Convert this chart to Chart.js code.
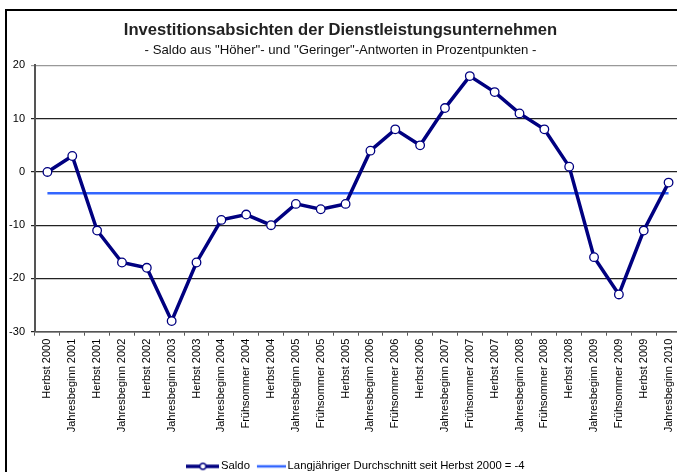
<!DOCTYPE html>
<html>
<head>
<meta charset="utf-8">
<script src="https://cdn.jsdelivr.net/npm/chart.js@4.4.1/dist/chart.umd.min.js"></script>
<style>
  html, body { margin: 0; padding: 0; background: #fff; overflow: hidden; }
</style>
</head>
<body>
<!-- the chart box runs a few pixels past the right edge of the picture -->
<canvas id="chart" width="681" height="472"></canvas>
<script>
// categories and values
const periods = [
  "Herbst 2000", "Jahresbeginn 2001", "Herbst 2001", "Jahresbeginn 2002", "Herbst 2002",
  "Jahresbeginn 2003", "Herbst 2003", "Jahresbeginn 2004", "Frühsommer 2004", "Herbst 2004",
  "Jahresbeginn 2005", "Frühsommer 2005", "Herbst 2005", "Jahresbeginn 2006", "Frühsommer 2006",
  "Herbst 2006", "Jahresbeginn 2007", "Frühsommer 2007", "Herbst 2007", "Jahresbeginn 2008",
  "Frühsommer 2008", "Herbst 2008", "Jahresbeginn 2009", "Frühsommer 2009", "Herbst 2009",
  "Jahresbeginn 2010"
];
const saldo = [0, 3, -11, -17, -18, -28, -17, -9, -8, -10, -6, -7, -6, 4, 8, 5, 12, 18, 15, 11, 8, 1, -16, -23, -11, -2];
const average = [-4, -4, -4, -4, -4, -4, -4, -4, -4, -4, -4, -4, -4, -4, -4, -4, -4, -4, -4, -4, -4, -4, -4, -4, -4, -4];
const yTicks = [20, 10, 0, -10, -20, -30];

const FONT = "'Liberation Sans', Arial, sans-serif";
const NAVY = "#000080";
const BLUE = "#3366FF";

// legend symbols: short line segments, Saldo with its circle marker
function legendSymbol(color, lineWidth, startX, withMarker) {
  const c = document.createElement("canvas");
  c.width = 33;
  c.height = 12;
  const g = c.getContext("2d");
  g.strokeStyle = color;
  g.lineWidth = lineWidth;
  g.beginPath();
  g.moveTo(startX, 6);
  g.lineTo(33, 6);
  g.stroke();
  if (withMarker) {
    g.fillStyle = "#fff";
    g.lineWidth = 1.3;
    g.beginPath();
    g.arc(16.5, 6, 3, 0, Math.PI * 2);
    g.fill();
    g.stroke();
  }
  return c;
}

const saldoSymbol = legendSymbol(NAVY, 3.5, 0, true);
const avgSymbol = legendSymbol(BLUE, 2.5, 4, false);

// the legend sits a bit right of centre and close to the bottom edge
const legendNudge = {
  id: "legendNudge",
  afterLayout(chart) {
    const lg = chart.legend;
    lg.left += 17; lg.right += 17;
    lg.top += 10; lg.bottom += 10;
  }
};

// chart frame: only its top and left edges fall inside the picture
const frameEdges = {
  id: "frameEdges",
  beforeDraw(chart) {
    const ctx = chart.ctx;
    ctx.save();
    ctx.strokeStyle = "#000";
    ctx.lineWidth = 2;
    ctx.beginPath();
    ctx.moveTo(6, chart.height);
    ctx.lineTo(6, 10);
    ctx.lineTo(chart.width, 10);
    ctx.stroke();
    ctx.restore();
  }
};

new Chart(document.getElementById("chart"), {
  type: "line",
  data: {
    labels: periods,
    datasets: [
      {
        label: "Saldo",
        data: saldo,
        borderColor: NAVY,
        borderWidth: 3.5,
        pointRadius: 4.3,
        pointBackgroundColor: "#fff",
        pointBorderColor: NAVY,
        pointBorderWidth: 1.3,
        pointStyle: "circle",
        tension: 0
      },
      {
        label: "Langjähriger Durchschnitt seit Herbst 2000 = -4",
        data: average,
        borderColor: BLUE,
        borderWidth: 2.5,
        pointRadius: 0,
        tension: 0
      }
    ]
  },
  plugins: [frameEdges, legendNudge],
  options: {
    responsive: false,
    animation: false,
    layout: { autoPadding: false, padding: { top: 10, left: 0, right: 0, bottom: 0 } },
    plugins: {
      title: {
        display: true,
        text: "Investitionsabsichten der Dienstleistungsunternehmen",
        color: "#222",
        font: { family: FONT, size: 16.6, weight: "bold" },
        padding: { top: 10, bottom: 3 }
      },
      subtitle: {
        display: true,
        text: "- Saldo aus \"Höher\"- und \"Geringer\"-Antworten in Prozentpunkten -",
        color: "#111",
        font: { family: FONT, size: 13.2 },
        padding: { top: 0, bottom: 6.7 }
      },
      legend: {
        position: "bottom",
        labels: {
          usePointStyle: true,
          pointStyleWidth: 25,
          color: "#000",
          font: { family: FONT, size: 11.3 },
          padding: 7,
          generateLabels: (chart) => chart.data.datasets.map((ds, i) => ({
            text: ds.label,
            datasetIndex: i,
            pointStyle: i === 0 ? saldoSymbol : avgSymbol,
            fontColor: "#000",
            lineWidth: 0,
            strokeStyle: "transparent",
            fillStyle: "transparent"
          }))
        }
      },
      tooltip: { enabled: false }
    },
    scales: {
      x: {
        offset: true,
        grid: {
          offset: true,
          drawOnChartArea: false,
          drawTicks: true,
          tickLength: 4,
          color: "#555"
        },
        border: { display: true, color: "#555", width: 1.5 },
        ticks: {
          autoSkip: false,
          minRotation: 90,
          maxRotation: 90,
          padding: 3,
          color: "#000",
          font: { family: FONT, size: 11 }
        },
        afterFit: (scale) => {
          scale.height = 112;
          scale.paddingLeft = 0;
          scale.paddingRight = 0;
        }
      },
      y: {
        min: -30,
        max: 20,
        afterBuildTicks: (scale) => { scale.ticks = yTicks.map((v) => ({ value: v })); },
        afterFit: (scale) => { scale.width = 35; },
        grid: {
          drawTicks: true,
          tickLength: 4,
          lineWidth: 1.2,
          color: (ctx) => (ctx.tick && ctx.tick.value === 20 ? "#999" : "#222")
        },
        border: { display: true, color: "#555", width: 2 },
        ticks: {
          padding: 6,
          color: "#000",
          font: { family: FONT, size: 11 }
        }
      }
    }
  }
});
</script>
</body>
</html>
